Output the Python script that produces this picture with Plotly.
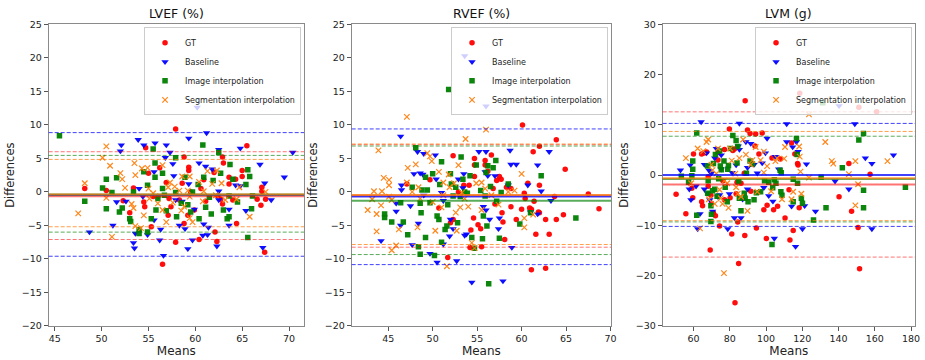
import plotly.graph_objects as go

# ---------------- data (mean, difference) pairs ----------------
series_names = ["GT", "Baseline", "Image interpolation", "Segmentation interpolation"]
panel_titles = ["LVEF (%)", "RVEF (%)", "LVM (g)"]

lvef_gt = [(48.2,0.5),(50.5,0.2),(52.3,-1.3),(53.0,-3.1),(53.4,0.6),(54.5,-1.5),(54.7,6.6),(55.0,2.8),
           (55.3,-5.2),(54.6,-2.2),(55.5,-0.7),(56.2,3.6),(56.5,-10.8),(56.9,1.4),(57.1,-3.5),(57.4,-2.2),
           (57.9,9.4),(57.9,-7.5),(58.3,-1.2),(58.6,1.3),(58.8,5.2),(58.8,-4.7),(59.3,3.7),(59.3,3.2),
           (59.2,-3.5),(59.5,0.0),(59.9,-2.7),(60.4,-7.1),(60.6,0.5),(60.9,1.8),(61.1,-1.4),(62.0,2.9),
           (62.1,-6.0),(62.3,-7.4),(62.4,-0.6),(62.7,-1.1),(62.9,5.2),(63.0,4.3),(62.9,-1.8),(63.6,1.2),
           (63.6,2.2),(64.3,1.9),(64.4,-4.7),(64.0,-1.2),(65.0,3.2),(65.0,2.3),(65.5,6.9),(66.6,-1.1),
           (67.1,0.7),(67.1,0.1),(67.0,-2.0),(67.5,-1.1),(67.4,-9.0),(56.0,-0.7),(57.2,-1.0)]
lvef_base = [(48.7,-6.0),(51.2,-5.0),(51.6,-1.5),(52.0,6.1),(52.1,7.0),(52.6,-1.4),(53.4,-7.6),(53.5,-8.4),
             (53.6,-6.2),(53.9,7.8),(54.0,0.5),(54.4,-0.7),(54.5,7.0),(54.9,-6.4),(55.6,-4.2),(55.6,3.0),
             (55.7,7.3),(56.3,-5.6),(56.2,-7.2),(56.6,-9.5),(56.9,7.0),(56.8,5.1),(57.3,5.9),(57.6,4.2),
             (57.7,2.4),(57.9,-1.2),(58.3,-5.0),(58.6,-1.4),(58.9,-5.5),(59.3,8.0),(59.3,1.2),(59.2,-8.5),
             (59.7,-7.2),(60.2,12.6),(60.4,4.3),(60.8,-6.5),(60.9,-4.8),(61.1,3.8),(61.2,8.8),(61.3,-6.4),
             (61.4,-5.3),(61.8,3.4),(62.3,-8.1),(62.5,6.3),(62.5,0.1),(63.6,-5.0),(63.6,-2.6),(64.3,1.0),
             (64.8,6.5),(64.8,0.9),(65.4,-2.8),(66.9,4.1),(67.2,-8.3),(67.4,1.3),(68.1,-1.2),(69.5,2.2),
             (70.4,5.9),(62.5,-1.2),(59.9,-2.6)]
lvef_img = [(45.5,8.4),(48.2,-1.4),(50.1,0.6),(50.5,1.9),(50.5,-2.5),(51.1,-0.1),(51.6,2.1),(51.9,-3.0),
            (52.2,-2.4),(53.0,-4.0),(53.1,-4.4),(53.4,0.0),(54.0,-6.2),(54.0,-5.6),(54.5,3.0),(54.9,1.0),
            (54.9,-6.0),(55.3,-4.0),(55.5,6.4),(55.7,4.3),(55.7,2.2),(55.8,-2.7),(56.0,-1.0),(56.5,2.8),
            (56.5,0.5),(56.7,-0.5),(56.9,-2.8),(57.9,5.1),(57.9,-0.1),(58.0,-3.7),(58.5,-1.7),(58.9,2.2),
            (59.2,-1.9),(59.5,-3.0),(59.7,0.0),(60.3,1.1),(60.4,-4.0),(60.8,7.0),(60.9,2.2),(61.1,-2.3),
            (61.5,-0.8),(61.7,-3.3),(61.9,1.7),(62.5,5.9),(62.7,2.8),(63.0,-2.7),(63.4,-4.0),(63.6,-3.7),
            (63.7,4.1),(64.0,1.9),(64.5,-1.5),(65.4,1.1),(65.6,3.3),(65.6,-6.8),(65.8,2.3),(66.0,-2.5),
            (66.1,-0.6),(63.6,-0.6)]
lvef_seg = [(47.5,-3.2),(48.2,1.3),(50.1,5.1),(50.5,6.8),(50.5,-0.9),(50.9,3.9),(51.1,-6.7),(52.0,2.8),
            (52.2,1.9),(52.5,0.6),(53.2,-1.8),(53.5,4.3),(53.6,2.5),(53.4,-2.4),(53.6,-5.1),(54.2,-5.4),
            (54.3,3.5),(54.5,-3.5),(54.9,3.6),(55.0,0.5),(55.1,-1.0),(55.5,-0.2),(56.0,-1.7),(56.5,4.0),
            (56.5,-2.7),(56.9,-4.5),(57.1,0.7),(57.3,1.4),(57.6,-1.6),(57.8,0.8),(58.3,0.2),(58.5,-2.8),
            (58.6,2.3),(58.8,-2.2),(59.2,0.2),(59.4,2.3),(59.4,-3.9),(59.7,-4.5),(60.4,1.5),(60.8,-1.4),
            (60.9,0.1),(61.3,3.1),(61.8,1.2),(62.2,-0.5),(62.3,3.2),(62.8,1.3),(63.2,-1.2),(64.4,-1.1),
            (64.7,0.7),(65.8,-3.7),(67.5,0.0),(59.4,-0.7)]

rvef_gt = [(47.1,1.2),(49.7,1.8),(50.7,-2.4),(51.7,-9.8),(52.0,-4.6),(52.3,5.4),(52.3,-4.1),(52.9,0.0),
           (53.5,1.0),(54.1,1.0),(54.3,-5.7),(54.6,-3.9),(54.7,5.0),(54.7,4.0),(54.7,2.3),(55.1,-4.9),
           (55.4,-5.5),(55.9,4.7),(55.9,4.0),(56.2,3.1),(56.6,5.5),(56.8,0.5),(57.0,-1.8),(57.2,1.7),
           (57.5,2.3),(57.7,1.9),(57.8,-3.1),(57.9,-4.5),(58.1,-7.1),(58.3,0.7),(58.8,0.5),(58.8,-2.2),
           (59.4,-4.1),(60.0,-2.6),(60.1,10.0),(60.3,-0.2),(60.4,-1.0),(60.7,1.3),(60.9,-2.4),(61.1,-2.6),
           (61.3,6.0),(61.4,-1.4),(61.6,-6.3),(61.9,-3.0),(62.0,6.8),(62.0,1.0),(62.0,-3.1),(62.7,-4.1),
           (63.1,-6.3),(63.7,-0.7),(63.9,-4.1),(63.9,7.8),(64.9,3.4),(64.7,-3.4),(61.1,-11.6),(62.7,-11.4),
           (67.5,-0.3),(68.7,-2.5),(54.2,-8.3),(55.5,-8.2)]
rvef_base = [(53.6,20.3),(56.0,12.8),(46.4,8.3),(44.2,-7.3),(45.9,-1.7),(46.5,1.0),(46.5,0.3),(46.4,-5.0),
             (45.9,-2.9),(47.5,-2.1),(47.7,-7.9),(47.9,2.7),(48.3,6.0),(48.4,-4.7),(48.6,2.8),(48.9,2.6),
             (49.0,5.7),(49.0,-0.5),(49.7,-9.2),(50.3,5.5),(50.4,1.9),(50.5,-10.5),(51.0,-0.1),(51.2,-1.3),
             (51.2,-7.8),(51.9,-6.6),(52.0,-4.1),(52.3,-5.5),(52.7,-10.3),(52.9,1.9),(53.4,0.6),(53.5,2.7),
             (53.6,-6.5),(53.8,-6.3),(54.4,-13.5),(55.2,6.0),(55.7,-2.2),(55.9,3.0),(56.0,6.0),(56.0,-2.7),
             (56.2,2.4),(56.4,-4.1),(57.0,2.4),(57.4,-5.5),(57.5,-3.9),(57.9,-13.3),(58.7,6.2),(58.8,4.1),
             (58.9,-8.3),(59.4,4.1),(60.7,1.0),(61.0,-3.0),(61.8,4.0),(61.8,-3.3),(62.2,0.1),(63.1,6.0),
             (63.3,-1.3),(58.5,1.0)]
rvef_img = [(51.8,15.3),(48.1,6.6),(44.6,-3.8),(44.6,-3.3),(45.4,-4.5),(46.4,-1.6),(46.7,-4.5),(47.2,-6.4),
            (47.7,0.7),(48.4,-8.2),(48.6,-1.7),(48.6,-9.3),(48.7,-3.1),(48.8,0.3),(49.2,2.2),(49.4,0.3),
            (49.2,-6.8),(49.7,-1.6),(50.0,2.7),(50.2,-9.5),(50.5,-3.6),(50.7,-4.1),(50.8,1.1),(51.0,4.5),
            (51.0,-7.5),(51.4,-5.6),(51.6,-5.1),(51.7,-1.9),(52.0,2.7),(52.1,1.2),(52.3,-0.6),(52.6,0.7),
            (52.8,-4.6),(53.1,-0.7),(53.2,5.2),(53.4,1.9),(53.6,0.0),(53.9,-0.2),(54.2,2.4),(54.4,-6.8),
            (54.7,-8.4),(54.9,4.0),(55.4,0.2),(55.6,-7.0),(55.9,-0.6),(56.0,2.9),(56.1,-5.1),(56.2,3.9),
            (56.3,-13.7),(56.5,0.8),(56.8,3.6),(57.1,4.7),(57.2,-1.4),(57.5,-6.9),(57.7,-0.1),(58.5,1.2),
            (59.8,-4.8),(61.0,-3.1),(62.2,2.4),(66.1,-3.9),(55.7,-3.6)]
rvef_seg = [(47.1,11.2),(43.9,6.2),(56.0,9.3),(53.7,7.9),(42.7,-2.7),(43.2,-1.1),(43.4,0.1),(43.7,-3.3),
            (43.7,-5.9),(44.2,-2.0),(44.3,0.1),(44.5,2.1),(45.1,1.8),(45.1,1.0),(45.1,-0.7),(45.4,-1.2),
            (45.4,-8.7),(45.9,-8.0),(46.2,-5.6),(47.1,1.4),(47.2,3.6),(47.7,0.0),(48.1,4.1),(48.3,-5.3),
            (48.4,0.7),(48.6,-1.0),(49.4,5.8),(49.7,5.3),(49.9,4.6),(50.0,-1.5),(50.3,-5.8),(50.7,3.0),
            (51.0,-2.3),(51.2,1.4),(51.2,-0.5),(51.6,-11.1),(51.8,2.6),(51.9,0.7),(52.4,1.3),(52.6,-3.1),
            (52.7,-5.8),(52.9,4.0),(53.1,-2.3),(53.3,-0.1),(53.6,-1.0),(54.0,-2.2),(54.4,-7.6),(54.7,-8.4),
            (54.9,1.3),(55.5,1.4),(55.5,-2.7),(55.9,0.5),(56.6,-0.5),(57.4,-1.9),(58.5,0.0),(59.2,0.2),
            (60.0,2.7),(60.3,-3.9),(61.3,-3.4),(60.3,-5.3)]

lvm_gt = [(50.4,-3.8),(55.8,-7.7),(60.0,4.2),(59.6,-4.5),(59.1,-2.6),(64.5,4.2),(66.0,4.4),(64.5,-5.3),
          (65.0,-6.1),(67.2,4.6),(68.1,-0.3),(68.1,-2.2),(69.6,-4.0),(69.2,-14.9),(69.9,-5.6),(71.0,-7.5),
          (72.1,-8.1),(74.4,-10.1),(73.5,3.0),(73.5,4.5),(76.2,-1.1),(77.1,5.1),(77.1,-4.9),(79.8,9.2),
          (80.2,-4.5),(81.1,-11.7),(81.7,4.9),(82.6,5.2),(83.5,-3.7),(82.9,-25.4),(84.0,-1.4),(84.4,-9.3),
          (84.9,-17.6),(86.2,-1.6),(88.0,0.4),(88.5,14.8),(88.3,-12.0),(89.8,9.0),(91.2,8.3),(91.6,-3.2),
          (94.3,8.2),(93.9,5.8),(94.7,-10.5),(96.1,4.2),(97.9,8.4),(98.8,-6.9),(100.2,-12.6),(100.6,-6.0),
          (103.3,3.4),(104.2,-6.9),(106.4,-6.2),(107.8,3.2),(110.5,-8.5),(112.7,-2.9),(113.2,-12.9),
          (114.1,6.4),(115.0,-11.0),(115.9,4.2),(117.4,2.3),(117.7,2.0),(118.6,16.3),(118.3,-6.5),
          (140.3,-4.3),(145.7,2.3),(147.2,-7.2),(150.8,-10.4),(151.2,13.5),(151.6,-18.6),(157.4,0.2),
          (161.0,12.6)]
lvm_base = [(52.8,1.0),(58.2,2.0),(57.7,-2.8),(58.6,-4.9),(61.4,-2.2),(62.3,-10.7),(63.6,-7.7),(64.2,10.6),
            (66.0,2.1),(66.0,-2.8),(67.2,4.4),(67.8,-3.6),(68.7,0.9),(69.0,-4.9),(69.9,0.4),(70.5,-7.2),
            (71.7,3.4),(72.6,5.3),(73.5,-4.3),(74.4,-3.9),(75.3,4.0),(75.3,1.2),(78.9,-10.7),(79.8,-3.7),
            (81.3,0.5),(82.6,-8.5),(83.5,2.0),(84.7,5.8),(85.3,10.3),(85.3,5.1),(86.2,-8.5),(87.1,-4.8),
            (88.9,6.6),(89.8,1.5),(89.8,-2.8),(91.6,6.3),(93.4,2.1),(95.2,0.4),(97.9,2.4),(98.8,-2.5),
            (99.7,4.4),(100.6,7.3),(101.5,-4.1),(103.8,-5.2),(104.6,-12.6),(105.2,3.7),(107.0,1.2),
            (111.4,10.2),(111.4,6.6),(114.1,-6.2),(114.7,5.6),(116.3,-14.2),(116.8,6.6),(117.7,4.7),
            (120.1,-10.7),(121.3,-6.1),(122.3,2.2),(127.3,-7.2),(138.1,-1.2),(140.3,13.8),(145.7,-2.8),
            (149.0,10.2),(154.8,3.4),(158.4,2.3),(158.4,-10.7),(170.3,4.0)]
lvm_img = [(53.3,-0.2),(57.3,-1.4),(59.1,-0.1),(59.6,1.2),(59.6,2.8),(61.8,8.4),(61.8,-8.0),(67.8,1.8),
           (67.8,-3.6),(68.1,-1.1),(69.6,-6.1),(69.6,-9.2),(69.9,-7.8),(70.5,-3.1),(71.0,2.3),(71.7,-2.8),
           (72.1,4.1),(73.0,-4.2),(73.9,-0.7),(74.4,4.8),(74.8,1.8),(75.3,1.1),(76.8,2.8),(77.5,-2.4),
           (78.6,-5.3),(78.9,1.2),(79.3,1.9),(80.4,5.3),(81.7,7.9),(83.5,6.9),(84.0,2.4),(84.4,5.7),
           (84.9,-1.3),(85.3,-4.6),(86.2,-7.1),(88.0,-3.6),(88.5,-4.6),(89.2,0.4),(90.1,-5.3),(91.2,2.8),
           (92.5,2.2),(93.4,-4.9),(94.7,-3.5),(97.0,-3.3),(99.2,-1.1),(101.5,-1.4),(103.3,-13.8),
           (103.7,-2.5),(104.6,-0.9),(105.5,-1.6),(107.8,1.0),(108.2,-3.3),(108.4,0.5),(108.8,-4.0),
           (115.0,-5.3),(115.0,-0.8),(116.8,7.3),(117.2,4.1),(117.4,-1.6),(119.5,-4.6),(120.1,-5.6),
           (126.2,-8.9),(130.4,-0.4),(131.3,14.4),(133.1,-6.5),(142.1,1.5),(151.2,7.0),(153.8,-6.5),
           (153.8,-3.0),(153.8,8.3),(176.9,-2.4)]
lvm_seg = [(55.8,3.4),(58.7,-1.6),(62.3,5.3),(63.6,-10.6),(65.4,4.8),(67.2,6.6),(68.1,7.1),(68.5,-4.8),
           (69.9,2.1),(70.5,1.0),(71.7,-5.7),(72.6,0.3),(73.5,5.3),(74.4,-2.9),(75.0,-4.6),(76.0,-5.7),
           (76.8,-19.5),(77.1,-1.1),(78.6,-1.6),(79.3,-6.5),(80.2,5.3),(81.1,2.9),(83.1,0.3),(83.5,-2.4),
           (84.4,-3.7),(85.3,3.4),(86.2,-4.3),(87.4,7.1),(88.9,4.1),(89.8,-7.1),(91.6,2.1),(92.5,3.0),
           (94.3,5.6),(95.2,-3.3),(97.0,3.0),(98.8,4.7),(98.8,0.5),(100.6,1.8),(102.8,-3.2),(105.2,2.8),
           (106.1,3.4),(108.8,-4.8),(110.0,3.3),(110.5,5.6),(114.1,-4.8),(115.0,-3.3),(118.6,3.7),
           (118.3,5.7),(119.0,0.7),(119.5,-3.7),(123.7,12.1),(123.7,-0.5),(132.7,6.6),(136.3,2.8),
           (137.1,2.3),(145.7,0.2),(149.3,2.8),(149.3,-6.0),(150.8,-1.8),(167.0,2.8)]

# bias (solid) and limits of agreement (dashed), order: GT, Baseline, Image, Segmentation
lvef_bias = [-0.65, -0.45, -0.4, -0.4]
lvef_upper = [6.0, 8.85, 5.45, 4.85]
lvef_lower = [-7.1, -9.6, -6.0, -5.2]
rvef_bias = [-0.55, -0.7, -1.3, -0.45]
rvef_upper = [7.05, 9.4, 6.85, 7.15]
rvef_lower = [-8.25, -10.85, -9.35, -7.85]
lvm_bias = [-1.85, 0.05, -0.75, -0.6]
lvm_upper = [12.6, 10.3, 7.75, 8.7]
lvm_lower = [-16.3, -10.2, -9.3, -9.05]

lvef_xticks = [45, 50, 55, 60, 65, 70]
rvef_xticks = [45, 50, 55, 60, 65, 70]
lvm_xticks = [60, 80, 100, 120, 140, 160, 180]
ef_yticks = [-20, -15, -10, -5, 0, 5, 10, 15, 20, 25]
lvm_yticks = [-30, -20, -10, 0, 10, 20, 30]

# ---------------- styling ----------------
FONT = "DejaVu Sans"
colors = ["#ff0000", "#0000ff", "#008000", "#ff7f0e"]
symbols = ["circle", "triangle-down", "square", "x-thin-open"]
sizes = [5.5, 6.5, 5.5, 5.5]
line_rgba = ["rgba(255,0,0,0.55)", "rgba(0,0,255,0.75)", "rgba(0,128,0,0.65)", "rgba(255,127,14,0.75)"]

W, H = 925, 360
def fx(px): return px / W
def fy(py): return 1 - py / H

panels = [
    dict(data=[lvef_gt, lvef_base, lvef_img, lvef_seg], bias=lvef_bias, up=lvef_upper, lo=lvef_lower,
         xr=[44.35, 71.6], yr=[-20, 25], xt=lvef_xticks, yt=ef_yticks, px=(49, 306)),
    dict(data=[rvef_gt, rvef_base, rvef_img, rvef_seg], bias=rvef_bias, up=rvef_upper, lo=rvef_lower,
         xr=[40.9, 70.05], yr=[-20, 25], xt=rvef_xticks, yt=ef_yticks, px=(354, 615)),
    dict(data=[lvm_gt, lvm_base, lvm_img, lvm_seg], bias=lvm_bias, up=lvm_upper, lo=lvm_lower,
         xr=[43.0, 182.2], yr=[-30, 30], xt=lvm_xticks, yt=lvm_yticks, px=(667, 921)),
]
TOP, BOT = 19, 330

fig = go.Figure()
shapes = []
annotations = []
layout = {}
for i, p in enumerate(panels):
    n = "" if i == 0 else str(i + 1)
    leg = "legend" if i == 0 else f"legend{i + 1}"
    for k in range(4):
        pts = p["data"][k]
        fig.add_trace(go.Scatter(
            x=[a for a, b in pts], y=[b for a, b in pts], mode="markers", name=series_names[k],
            xaxis="x" + n, yaxis="y" + n, legend=leg,
            marker=dict(symbol=symbols[k], size=sizes[k], color=colors[k], opacity=0.95,
                        line=dict(width=1.2 if k == 3 else 0, color=colors[k])),
        ))
    for k in range(4):
        shapes.append(dict(type="line", xref=f"x{n} domain", yref="y" + n, x0=0, x1=1,
                           y0=p["bias"][k], y1=p["bias"][k], layer="above",
                           line=dict(color=line_rgba[k], width=2)))
        for v in (p["up"][k], p["lo"][k]):
            shapes.append(dict(type="line", xref=f"x{n} domain", yref="y" + n, x0=0, x1=1,
                               y0=v, y1=v, layer="above",
                               line=dict(color=line_rgba[k], width=1, dash="4px,2px")))
    x0, x1 = p["px"]
    axcommon = dict(showgrid=False, zeroline=False, showline=True, mirror=True, linecolor="#8a8a8a",
                    linewidth=1, ticks="outside", ticklen=4, tickcolor="#555",
                    tickfont=dict(family=FONT, size=9.5, color="#222"))
    layout["xaxis" + n] = dict(domain=[fx(x0), fx(x1)], range=p["xr"], tickvals=p["xt"],
                               anchor="y" + n, **axcommon,
                               title=dict(text="Means", font=dict(family=FONT, size=12, color="#222"),
                                          standoff=2))
    layout["yaxis" + n] = dict(domain=[fy(BOT), fy(TOP)], range=p["yr"], tickvals=p["yt"],
                               anchor="x" + n, **axcommon,
                               title=dict(text="Differences", font=dict(family=FONT, size=11.5, color="#222"),
                                          standoff=4))
    layout[leg] = dict(x=fx(x1 - 3), y=fy(TOP + 3), xanchor="right", yanchor="top",
                       bgcolor="rgba(255,255,255,0.8)", bordercolor="#cccccc", borderwidth=1,
                       font=dict(family=FONT, size=8, color="#222"), itemsizing="trace",
                       itemwidth=30, tracegroupgap=0)
    annotations.append(dict(text=panel_titles[i], xref="paper", yref="paper",
                            x=(fx(x0) + fx(x1)) / 2, y=fy(TOP) + 0.003, xanchor="center",
                            yanchor="bottom", showarrow=False,
                            font=dict(family=FONT, size=12.5, color="#111")))

fig.update_layout(width=W, height=H, margin=dict(l=0, r=0, t=0, b=0),
                  paper_bgcolor="white", plot_bgcolor="white",
                  shapes=shapes, annotations=annotations, **layout)
fig.write_html("out.html", config={"displayModeBar": False},
               post_script="document.body.style.margin='0';")
